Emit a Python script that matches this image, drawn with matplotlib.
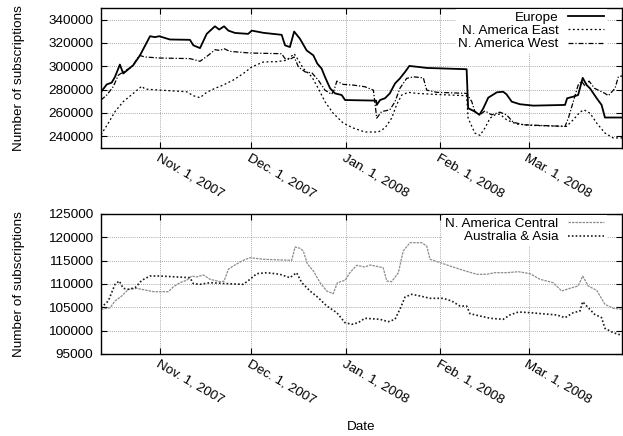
import matplotlib
matplotlib.use("Agg")
import matplotlib.pyplot as plt
import pandas as pd

plt.rcParams["font.family"] = ["Liberation Sans", "DejaVu Sans"]
plt.rcParams["font.size"] = 9.7

# days counted from the left edge of the plots
base = pd.Timestamp("2007-10-12 15:20")

europe_day = [0, 1.9, 3.5, 4.6, 6.2, 7.3, 10.6, 12.8, 16.1, 17.7, 19.1, 22.6, 29.2, 30.3,
              32.5, 34.7, 37.4, 38.8, 40.4, 41.8, 44.0, 48.3, 49.5, 53.3, 59.3, 60.4, 62.0,
              63.4, 65.3, 67.5, 69.7, 71.0, 72.4, 73.5, 75.2, 76.8, 79.0, 80.1, 90.3, 90.5,
              91.6, 93.2, 94.8, 96.5, 98.1, 99.8, 101.2, 104.1, 106.9, 120.0, 120.5, 122.7,
              124.2, 125.5, 127.1, 129.9, 132.0, 133.1, 134.8, 137.5, 141.9, 152.3, 153.0,
              155.0, 156.6, 158.1, 159.4, 160.5, 162.7, 164.3, 165.4, 171]
europe_val = [278000, 284500, 286000, 291000, 301500, 293800, 301000, 309400, 325800, 325000,
              325800, 323000, 322700, 318000, 315600, 327800, 334300, 331500, 334300, 330600,
              328600, 327800, 330600, 328700, 327000, 318000, 316500, 329800, 323600, 313600,
              309400, 302300, 298100, 291000, 281100, 276800, 275400, 271100, 270600, 266900,
              271100, 272600, 276800, 285300, 289600, 295200, 300300, 299500, 298600, 297500,
              264100, 261200, 258400, 264100, 273100, 277700, 278200, 276000, 269700, 267500,
              266300, 266900, 272600, 274000, 275400, 290100, 283900, 281100, 272600, 266900,
              256100, 256100]

east_day = [0, 2.4, 4.6, 7.3, 10.6, 13.4, 14.4, 19.4, 28.1, 30.3, 32.5, 34.7, 37.4, 40.1,
            43.4, 46.7, 49.5, 53.3, 57.7, 61.0, 63.4, 64.8, 66.4, 69.2, 71.3, 73.5, 76.2,
            79.5, 82.8, 86.6, 91.0, 93.2, 95.4, 97.0, 98.7, 100.9, 103.6, 109.1, 120.0,
            120.5, 122.7, 124.4, 126.0, 127.7, 129.3, 130.9, 133.1, 136.4, 141.9, 152.8,
            155.0, 157.2, 158.5, 160.5, 162.7, 165.4, 168.1, 171]
east_val = [241400, 251300, 261200, 269700, 276800, 283000, 280500, 279600, 278200, 274800,
            273100, 277700, 281100, 283900, 288200, 293800, 299500, 303700, 304000, 305200,
            310800, 305200, 298100, 291000, 281100, 269700, 259800, 251300, 247100, 243700,
            243700, 247100, 255600, 266900, 275400, 277700, 276800, 276000, 274800, 255600,
            242800, 240800, 247100, 255600, 258400, 259000, 254200, 250500, 249300, 248500,
            254200, 260700, 262700, 259800, 251300, 242800, 238600, 238600]

west_day = [0, 1.9, 4.0, 5.7, 7.3, 10.1, 12.6, 14.4, 19.4, 29.2, 32.5, 35.2, 37.4, 39.1,
            40.4, 42.3, 48.9, 59.3, 60.4, 62.0, 63.4, 64.8, 67.0, 69.2, 71.3, 73.5, 75.7,
            76.5, 77.4, 79.5, 82.8, 86.6, 89.4, 90.5, 92.1, 94.8, 96.5, 98.1, 100.3, 102.5,
            105.8, 106.9, 110.2, 120.0, 121.7, 122.7, 124.4, 126.0, 128.2, 130.9, 133.1,
            135.3, 138.6, 152.3, 153.4, 155.0, 156.6, 157.7, 158.8, 160.2, 162.0, 165.4,
            166.5, 168.7, 169.8, 171]
west_val = [271100, 275400, 282500, 292400, 295200, 299500, 309400, 308000, 307100, 306600,
            304300, 309400, 314200, 313600, 315100, 312800, 311400, 310800, 306600, 306000,
            308000, 299500, 295200, 294400, 288200, 279600, 276000, 279600, 287300, 284500,
            283900, 282500, 279600, 255600, 261200, 262700, 269700, 281100, 289600, 291000,
            290100, 279600, 277700, 276800, 269700, 261200, 258400, 261800, 258400, 260700,
            258400, 252100, 249900, 248500, 255600, 269700, 283900, 287300, 283300, 287300,
            281100, 276800, 274800, 281100, 291000, 291800]

central_day = [0, 3.0, 4.6, 6.8, 9.0, 11.7, 15.0, 17.2, 22.1, 23.7, 25.9, 28.1, 29.8, 31.4,
               33.6, 35.8, 39.1, 40.4, 41.8, 43.4, 46.7, 48.9, 53.3, 62.6, 63.7, 65.3, 66.4,
               67.7, 69.7, 71.9, 74.1, 76.2, 77.6, 80.1, 81.7, 83.9, 86.6, 88.3, 92.6, 93.8,
               95.4, 97.6, 99.2, 101.4, 105.3, 106.9, 108.0, 111.3, 114.5, 118.9, 123.3,
               126.6, 129.3, 133.1, 137.0, 140.8, 144.1, 148.4, 151.2, 153.9, 156.6, 158.1,
               159.9, 162.7, 165.4, 168.1, 171]
central_val = [104580, 104900, 106360, 107430, 108860, 109070, 108640, 108350, 108350, 109360,
               110280, 110790, 111710, 111500, 111930, 111000, 110490, 110600, 113150, 113860,
               115070, 115640, 115290, 115070, 117930, 117650, 117070, 114350, 112790, 110280,
               108500, 107920, 110280, 110790, 112420, 114000, 113640, 114070, 113500, 110640,
               110490, 112420, 117070, 118850, 118850, 118140, 115290, 114570, 113860, 112930,
               112080, 112080, 112420, 112420, 112630, 112210, 111000, 110280, 108500, 109070,
               109570, 111710, 109570, 108640, 105650, 104790, 104580]

asia_day = [0, 2.4, 4.6, 6.0, 7.3, 9.0, 11.2, 13.4, 16.1, 19.4, 29.2, 30.3, 32.5, 35.8,
            41.3, 46.7, 48.9, 51.1, 54.4, 58.7, 62.0, 64.2, 65.9, 68.6, 71.3, 74.1, 77.4,
            80.1, 82.3, 84.4, 86.6, 91.6, 94.3, 96.5, 98.1, 99.8, 102.0, 104.7, 108.0,
            112.3, 115.1, 117.8, 120.0, 121.1, 124.4, 127.7, 132.0, 134.2, 137.0, 140.8,
            149.6, 152.3, 155.0, 157.2, 158.1, 159.4, 162.0, 164.3, 165.4, 168.1, 171]
asia_val = [104900, 106360, 109930, 110640, 109070, 108860, 109210, 110790, 111710, 111710,
            111350, 110070, 109930, 110280, 110070, 109930, 111000, 112210, 112420, 112080,
            111350, 112420, 110280, 108500, 107070, 105280, 103850, 101700, 101360, 101700,
            102650, 102430, 101920, 102430, 104580, 107210, 107790, 107430, 106930, 106930,
            106360, 105280, 105280, 103640, 103140, 102650, 102430, 103360, 104000, 103850,
            103360, 102780, 103850, 104210, 106210, 105280, 103500, 102780, 100500, 99570,
            99000]

tick_dates = ["2007-11-01", "2007-12-01", "2008-01-01", "2008-02-01", "2008-03-01"]
tick_labels = ["Nov. 1, 2007", "Dec. 1, 2007", "Jan. 1, 2008", "Feb. 1, 2008", "Mar. 1, 2008"]
top_yticks = [240000, 260000, 280000, 300000, 320000, 340000]
bottom_yticks = [95000, 100000, 105000, 110000, 115000, 120000, 125000]


def to_dates(days):
    return base + pd.to_timedelta(days, unit="D")


fig = plt.figure(figsize=(6.23, 4.36), dpi=100)
ax1 = fig.add_axes([0.1621, 0.6606, 0.8363, 0.3211])
ax2 = fig.add_axes([0.1621, 0.1881, 0.8363, 0.3211])

ax1.plot(to_dates(europe_day), europe_val, color="black", lw=1.3, label="Europe")
ax1.plot(to_dates(east_day), east_val, color="black", lw=0.9,
         linestyle=(0, (1.5, 2)), label="N. America East")
ax1.plot(to_dates(west_day), west_val, color="black", lw=0.9,
         linestyle=(0, (4, 1.5, 1, 1.5)), label="N. America West")

ax2.plot(to_dates(central_day), central_val, color="0.55", lw=0.9,
         linestyle=(0, (2, 0.8)), label="N. America Central")
ax2.plot(to_dates(asia_day), asia_val, color="0.1", lw=1.2,
         linestyle=(0, (1, 1.3)), label="Australia & Asia")

for ax, yt, ylim in [(ax1, top_yticks, (230000, 350000)),
                     (ax2, bottom_yticks, (95000, 125000))]:
    ax.set_xlim(base, base + pd.Timedelta(days=171))
    ax.set_ylim(*ylim)
    ax.set_yticks(yt)
    ax.set_xticks(pd.to_datetime(tick_dates))
    ax.set_xticklabels(tick_labels, rotation=-30, ha="left", va="top",
                       rotation_mode="anchor")
    ax.tick_params(direction="in", top=True, right=True, length=4, width=0.8)
    ax.tick_params(axis="y", pad=5.5)
    ax.tick_params(axis="x", pad=3)
    ax.grid(True, color="0.55", linestyle=(0, (1, 1.5)), lw=0.6)
    ax.set_axisbelow(True)
    for s in ax.spines.values():
        s.set_linewidth(1.0)
    ax.set_ylabel("Number of subscriptions")
    ax.yaxis.set_label_coords(-0.145, 0.5)
    leg = ax.legend(loc="upper right", bbox_to_anchor=(1 - 15 / 521, 1 - 1 / 140),
                    markerfirst=False, frameon=True, fancybox=False, edgecolor="none",
                    facecolor="white", framealpha=1, borderpad=0.2, borderaxespad=0,
                    labelspacing=0.05, handlelength=2.7, handletextpad=0.7)

ax2.set_xlabel("Date")
ax2.xaxis.set_label_coords(0.5, -0.478)

fig.savefig("out.png", dpi=100)
